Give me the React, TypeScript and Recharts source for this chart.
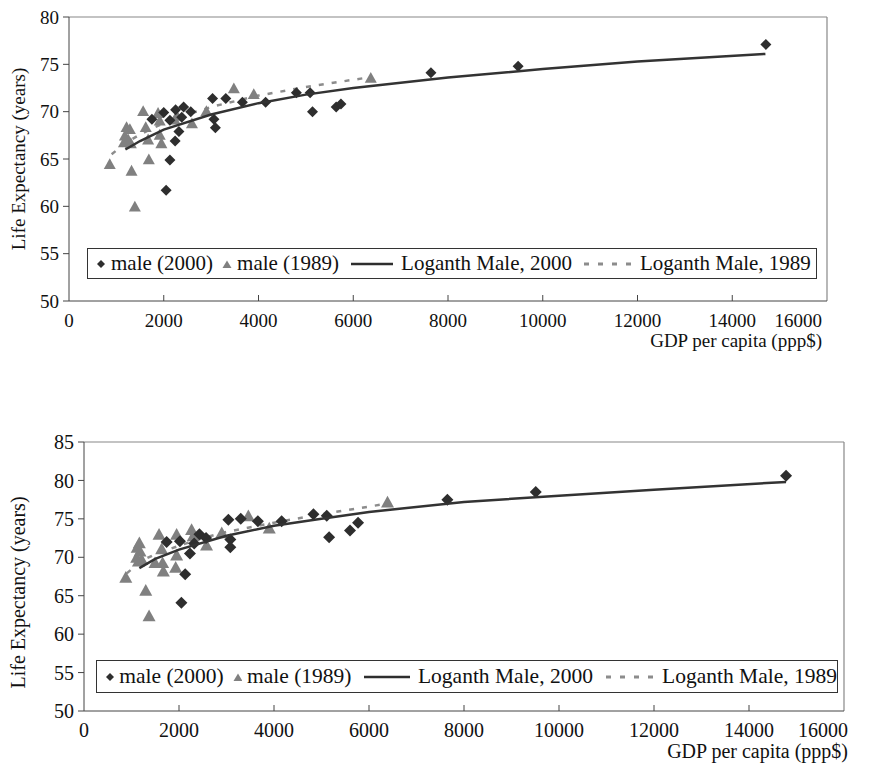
import React from 'react';
import { ScatterChart, Scatter, XAxis, YAxis, ZAxis, Legend, Label, ReferenceLine } from 'recharts';

const FONT = '"Liberation Serif", "Times New Roman", serif';

// upper panel
const topMale2000 = [
    { gdp: 1750, life: 69.2 }, { gdp: 2000, life: 69.9 }, { gdp: 2130, life: 69.1 },
    { gdp: 2250, life: 70.2 }, { gdp: 2380, life: 69.4 }, { gdp: 2420, life: 70.5 },
    { gdp: 2570, life: 70.0 }, { gdp: 2320, life: 67.9 }, { gdp: 2240, life: 66.9 },
    { gdp: 2130, life: 64.9 }, { gdp: 2050, life: 61.7 }, { gdp: 3030, life: 71.4 },
    { gdp: 3310, life: 71.4 }, { gdp: 3660, life: 71.0 }, { gdp: 3060, life: 69.2 },
    { gdp: 3090, life: 68.3 }, { gdp: 4150, life: 71.0 }, { gdp: 4800, life: 72.0 },
    { gdp: 5090, life: 72.0 }, { gdp: 5140, life: 70.0 }, { gdp: 5640, life: 70.5 },
    { gdp: 5740, life: 70.8 }, { gdp: 7640, life: 74.1 }, { gdp: 9480, life: 74.8 },
    { gdp: 14710, life: 77.1 },
];

const topMale1989 = [
    { gdp: 860, life: 64.4 }, { gdp: 1215, life: 68.3 }, { gdp: 1285, life: 68.1 },
    { gdp: 1180, life: 67.4 }, { gdp: 1250, life: 67.0 }, { gdp: 1160, life: 66.7 },
    { gdp: 1305, life: 66.6 }, { gdp: 1320, life: 63.7 }, { gdp: 1390, life: 59.9 },
    { gdp: 1565, life: 70.0 }, { gdp: 1620, life: 68.3 }, { gdp: 1670, life: 67.0 },
    { gdp: 1685, life: 64.9 }, { gdp: 1880, life: 69.8 }, { gdp: 1915, life: 69.0 },
    { gdp: 1915, life: 67.5 }, { gdp: 1950, life: 66.6 }, { gdp: 2230, life: 69.1 },
    { gdp: 2280, life: 69.5 }, { gdp: 2595, life: 68.7 }, { gdp: 2900, life: 70.0 },
    { gdp: 3480, life: 72.4 }, { gdp: 3900, life: 71.8 }, { gdp: 6370, life: 73.5 },
];

const topFit2000 = [
    { gdp: 1190, life: 66.0 }, { gdp: 1500, life: 66.9 }, { gdp: 2000, life: 68.1 },
    { gdp: 3000, life: 69.7 }, { gdp: 4000, life: 70.9 }, { gdp: 5000, life: 71.8 },
    { gdp: 6000, life: 72.5 }, { gdp: 8000, life: 73.6 }, { gdp: 10000, life: 74.5 },
    { gdp: 12000, life: 75.3 }, { gdp: 14700, life: 76.1 },
];

const topFit1989 = [
    { gdp: 900, life: 65.5 }, { gdp: 1200, life: 66.7 }, { gdp: 1500, life: 67.6 },
    { gdp: 2000, life: 68.8 }, { gdp: 2500, life: 69.7 }, { gdp: 3000, life: 70.5 },
    { gdp: 4000, life: 71.7 }, { gdp: 5000, life: 72.6 }, { gdp: 6300, life: 73.6 },
];

// lower panel
const bottomMale2000 = [
    { gdp: 1740, life: 72.0 }, { gdp: 2020, life: 72.1 }, { gdp: 2230, life: 70.5 },
    { gdp: 2130, life: 67.8 }, { gdp: 2050, life: 64.1 }, { gdp: 2430, life: 73.0 },
    { gdp: 2570, life: 72.5 }, { gdp: 2320, life: 71.8 }, { gdp: 3040, life: 74.9 },
    { gdp: 3300, life: 75.0 }, { gdp: 3660, life: 74.7 }, { gdp: 3080, life: 72.3 },
    { gdp: 3080, life: 71.3 }, { gdp: 4160, life: 74.7 }, { gdp: 4830, life: 75.6 },
    { gdp: 5110, life: 75.4 }, { gdp: 5160, life: 72.6 }, { gdp: 5600, life: 73.5 },
    { gdp: 5770, life: 74.5 }, { gdp: 7650, life: 77.5 }, { gdp: 9510, life: 78.5 },
    { gdp: 14780, life: 80.6 },
];

const bottomMale1989 = [
    { gdp: 880, life: 67.3 }, { gdp: 1300, life: 65.6 }, { gdp: 1370, life: 62.3 },
    { gdp: 1165, life: 71.8 }, { gdp: 1120, life: 71.2 }, { gdp: 1180, life: 70.7 },
    { gdp: 1110, life: 69.9 }, { gdp: 1215, life: 69.6 }, { gdp: 1145, life: 69.4 },
    { gdp: 1580, life: 72.9 }, { gdp: 1635, life: 71.0 }, { gdp: 1495, life: 69.2 },
    { gdp: 1655, life: 69.2 }, { gdp: 1670, life: 68.1 }, { gdp: 1950, life: 72.9 },
    { gdp: 1950, life: 70.2 }, { gdp: 1930, life: 68.6 }, { gdp: 2265, life: 73.5 },
    { gdp: 2300, life: 72.7 }, { gdp: 2580, life: 71.5 }, { gdp: 2900, life: 73.1 },
    { gdp: 3460, life: 75.3 }, { gdp: 3900, life: 73.7 }, { gdp: 6390, life: 77.1 },
];

const bottomFit2000 = [
    { gdp: 1165, life: 68.6 }, { gdp: 1500, life: 69.8 }, { gdp: 2000, life: 71.0 },
    { gdp: 3000, life: 72.8 }, { gdp: 4000, life: 74.1 }, { gdp: 5000, life: 75.0 },
    { gdp: 6000, life: 75.9 }, { gdp: 8000, life: 77.2 }, { gdp: 10000, life: 78.0 },
    { gdp: 12000, life: 78.8 }, { gdp: 14780, life: 79.8 },
];

const bottomFit1989 = [
    { gdp: 900, life: 67.9 }, { gdp: 1200, life: 69.5 }, { gdp: 1500, life: 70.4 },
    { gdp: 2000, life: 71.5 }, { gdp: 2500, life: 72.5 }, { gdp: 3000, life: 73.3 },
    { gdp: 4000, life: 74.5 }, { gdp: 5000, life: 75.6 }, { gdp: 6300, life: 76.9 },
];

const gdpTicks = [0, 2000, 4000, 6000, 8000, 10000, 12000, 14000, 16000];
const topLifeTicks = [50, 55, 60, 65, 70, 75, 80];
const bottomLifeTicks = [50, 55, 60, 65, 70, 75, 80, 85];
const legendLabels = ['male (2000)', 'male (1989)', 'Loganth Male, 2000', 'Loganth Male, 1989'];

const DARK = '#2e2e2e';
const GREY = '#808080';
const GDP_MAX = 16000;

const NoDot = () => <g />;

const makeDiamond = (r: number) => (props: any) => {
    const { cx, cy } = props;
    return <polygon points={`${cx},${cy - r} ${cx + r},${cy} ${cx},${cy + r} ${cx - r},${cy}`} fill={DARK} />;
};

const makeTriangle = (w: number) => (props: any) => {
    const { cx, cy } = props;
    const h = w * 0.9;
    return (
        <polygon
            points={`${cx},${cy - h * 0.6} ${cx + w / 2},${cy + h * 0.4} ${cx - w / 2},${cy + h * 0.4}`}
            fill={GREY}
        />
    );
};

// x ticks point inward; the last label is pulled in so it ends under the title
const XTick = (props: any) => {
    const { x, y, payload, fontSize, labelDy, lastDx } = props;
    const last = payload.value === GDP_MAX;
    return (
        <g>
            {payload.value > 0 && !last && <line x1={x} x2={x} y1={y} y2={y - 6} stroke="#444" />}
            <text
                x={last ? x + lastDx : x}
                y={y + labelDy}
                textAnchor={last ? 'end' : 'middle'}
                fontFamily={FONT}
                fontSize={fontSize}
                fill="#111"
            >
                {payload.value}
            </text>
        </g>
    );
};

const LegendBox = ({ fontSize, gaps, lineW, dashW }: { fontSize: number; gaps: number[]; lineW: number; dashW: number }) => (
    <div
        style={{
            border: '1px solid #333',
            background: '#fff',
            boxSizing: 'border-box',
            height: '100%',
            display: 'flex',
            alignItems: 'center',
            padding: '0 0 0 8px',
            fontFamily: FONT,
            fontSize,
            color: '#111',
            whiteSpace: 'nowrap',
        }}
    >
        <svg width={10} height={10} style={{ marginRight: 5 }}>
            <polygon points="5,1 9,5 5,9 1,5" fill={DARK} />
        </svg>
        <span style={{ marginRight: gaps[0] }}>{legendLabels[0]}</span>
        <svg width={10} height={10} style={{ marginRight: 5 }}>
            <polygon points="5,1.5 9.5,9 0.5,9" fill={GREY} />
        </svg>
        <span style={{ marginRight: gaps[1] }}>{legendLabels[1]}</span>
        <svg width={lineW} height={10} style={{ marginRight: 8 }}>
            <line x1={0} x2={lineW} y1={5} y2={5} stroke={DARK} strokeWidth={2.5} />
        </svg>
        <span style={{ marginRight: gaps[2] }}>{legendLabels[2]}</span>
        <svg width={dashW} height={10} style={{ marginRight: 7 }}>
            <line x1={1} x2={dashW} y1={5} y2={5} stroke="#8c8c8c" strokeWidth={3} strokeDasharray="5 9" />
        </svg>
        <span>{legendLabels[3]}</span>
    </div>
);

const YTitle = (props: any) => {
    const { viewBox, fontSize, shift } = props;
    const cx = viewBox.x + 18;
    const cy = viewBox.y + viewBox.height / 2 + shift;
    return (
        <text
            x={cx}
            y={cy}
            transform={`rotate(-90 ${cx} ${cy})`}
            textAnchor="middle"
            dominantBaseline="central"
            fontFamily={FONT}
            fontSize={fontSize}
            fill="#111"
        >
            Life Expectancy (years)
        </text>
    );
};

const XTitle = (props: any) => {
    const { viewBox, fontSize, dx, dy } = props;
    return (
        <text
            x={viewBox.x + viewBox.width + dx}
            y={viewBox.y + dy}
            textAnchor="end"
            fontFamily={FONT}
            fontSize={fontSize}
            fill="#111"
        >
            GDP per capita (ppp$)
        </text>
    );
};

interface PanelProps {
    top: number;
    height: number;
    margin: { top: number; right: number; bottom: number; left: number };
    yAxisWidth: number;
    xAxisHeight: number;
    lifeTicks: number[];
    male2000: { gdp: number; life: number }[];
    male1989: { gdp: number; life: number }[];
    fit2000: { gdp: number; life: number }[];
    fit1989: { gdp: number; life: number }[];
    fontSize: number;
    tickDy: number;
    legendFont: number;
    legendGaps: number[];
    lineW: number;
    dashW: number;
    legendBox: { left: number; top: number; width: number; height: number };
    yTitleShift: number;
    xTitle: { dx: number; dy: number };
    diamondR: number;
    triangleW: number;
}

const Panel = (p: PanelProps) => {
    const yMin = p.lifeTicks[0];
    const yMax = p.lifeTicks[p.lifeTicks.length - 1];
    return (
        <div style={{ position: 'absolute', left: 0, top: p.top }}>
            <ScatterChart width={880} height={p.height} margin={p.margin}>
                <XAxis
                    type="number"
                    dataKey="gdp"
                    domain={[0, GDP_MAX]}
                    ticks={gdpTicks}
                    interval={0}
                    height={p.xAxisHeight}
                    tickSize={0}
                    tickMargin={0}
                    axisLine={{ stroke: '#444' }}
                    tick={<XTick fontSize={p.fontSize} labelDy={p.tickDy} lastDx={p.xTitle.dx} />}
                >
                    <Label content={(lp: any) => <XTitle {...lp} fontSize={p.fontSize} dx={p.xTitle.dx} dy={p.xTitle.dy} />} />
                </XAxis>
                <YAxis
                    type="number"
                    dataKey="life"
                    domain={[yMin, yMax]}
                    ticks={p.lifeTicks}
                    interval={0}
                    width={p.yAxisWidth}
                    tickSize={6}
                    tickMargin={4}
                    axisLine={{ stroke: '#444' }}
                    tickLine={{ stroke: '#444' }}
                    tick={{ fontFamily: FONT, fontSize: p.fontSize, fill: '#111' }}
                >
                    <Label content={(lp: any) => <YTitle {...lp} fontSize={p.fontSize} shift={p.yTitleShift} />} />
                </YAxis>
                <ZAxis range={[64, 64]} />
                <ReferenceLine y={yMax} stroke="#888" strokeWidth={1.2} />
                <ReferenceLine x={GDP_MAX} stroke="#888" strokeWidth={1.2} />
                <Legend
                    layout="horizontal"
                    verticalAlign="middle"
                    align="center"
                    wrapperStyle={{ position: 'absolute', ...p.legendBox }}
                    content={() => (
                        <LegendBox fontSize={p.legendFont} gaps={p.legendGaps} lineW={p.lineW} dashW={p.dashW} />
                    )}
                />
                <Scatter
                    name="Loganth Male, 1989"
                    data={p.fit1989}
                    shape={NoDot}
                    line={{ stroke: '#8c8c8c', strokeWidth: 2.5, strokeDasharray: '5 8' }}
                    isAnimationActive={false}
                />
                <Scatter
                    name="male (1989)"
                    data={p.male1989}
                    shape={makeTriangle(p.triangleW)}
                    isAnimationActive={false}
                />
                <Scatter
                    name="male (2000)"
                    data={p.male2000}
                    shape={makeDiamond(p.diamondR)}
                    isAnimationActive={false}
                />
                <Scatter
                    name="Loganth Male, 2000"
                    data={p.fit2000}
                    shape={NoDot}
                    line={{ stroke: '#333', strokeWidth: 2.5 }}
                    isAnimationActive={false}
                />
            </ScatterChart>
        </div>
    );
};

export default function App() {
    return (
        <div style={{ position: 'absolute', left: 0, top: 0, width: 880, height: 774, background: '#fff' }}>
            <Panel
                top={0}
                height={390}
                margin={{ top: 17, right: 53, bottom: 29, left: 0 }}
                yAxisWidth={69}
                xAxisHeight={60}
                lifeTicks={topLifeTicks}
                male2000={topMale2000}
                male1989={topMale1989}
                fit2000={topFit2000}
                fit1989={topFit1989}
                fontSize={19}
                tickDy={26}
                legendFont={21}
                legendGaps={[9, 12, 11]}
                lineW={42}
                dashW={50}
                legendBox={{ left: 87, top: 248, width: 730, height: 31 }}
                yTitleShift={0}
                xTitle={{ dx: -5, dy: 46 }}
                diamondR={5.5}
                triangleW={12}
            />
            <Panel
                top={390}
                height={384}
                margin={{ top: 52, right: 36, bottom: 13, left: 0 }}
                yAxisWidth={84}
                xAxisHeight={50}
                lifeTicks={bottomLifeTicks}
                male2000={bottomMale2000}
                male1989={bottomMale1989}
                fit2000={bottomFit2000}
                fit1989={bottomFit1989}
                fontSize={20}
                tickDy={26}
                legendFont={21.5}
                legendGaps={[9, 12, 12]}
                lineW={50}
                dashW={54}
                legendBox={{ left: 96, top: 270, width: 742, height: 33 }}
                yTitleShift={16}
                xTitle={{ dx: 4, dy: 47 }}
                diamondR={6}
                triangleW={13}
            />
        </div>
    );
}
